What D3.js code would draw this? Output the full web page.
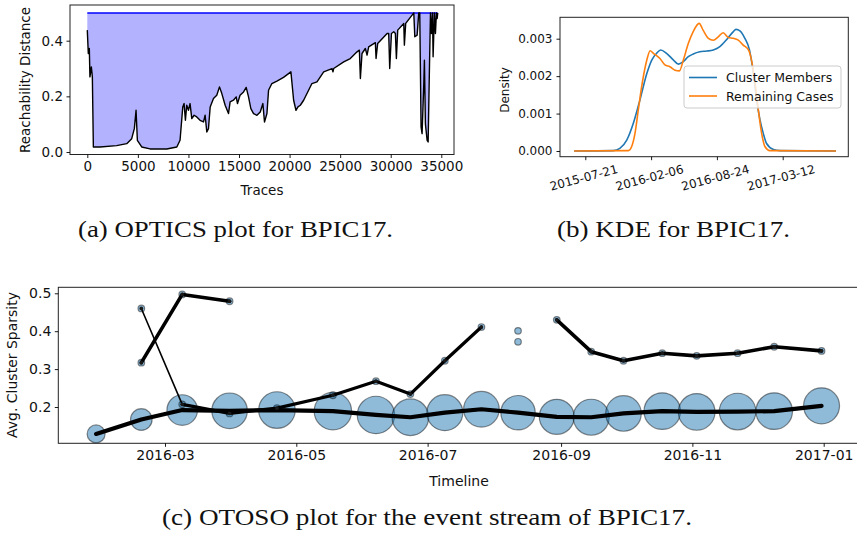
<!DOCTYPE html>
<html>
<head>
<meta charset="utf-8">
<script src="https://cdn.jsdelivr.net/npm/d3@7"></script>
<style>
  body { margin: 0; background: #fff; }
  svg { display: block; font-family: "DejaVu Sans", sans-serif; }
</style>
</head>
<body>
<svg id="fig" width="857" height="538"></svg>
<script>
// (a) OPTICS reachability plot
const traceIdx = [0, 100, 200, 260, 400, 500, 600, 1250, 2900, 3900, 4390, 4650, 4820, 4950, 5380, 6200, 7850, 8850,
  9170, 9440, 9570, 9700, 9830, 10000, 10160, 10330, 10560, 10820, 11150, 11490, 11650, 11815, 11980, 12150, 12475,
  12800, 13070, 13300, 13630, 13960, 14120, 14450, 14720, 14850, 15100, 15450, 15710, 15940, 16170, 16440, 16770,
  17100, 17360, 17520, 17760, 17920, 18250, 18750, 19400, 20130, 20400, 20630, 20830, 21060, 21390, 21880, 22210,
  22710, 23370, 24190, 24290, 24360, 25350, 26000, 26670, 26900, 27000, 27160, 27490, 27660, 27820, 28480, 28550,
  28710, 29640, 29800, 29900, 30070, 30300, 30460, 30560, 30690, 31290, 31350, 31480, 32110, 32280, 32380, 32610,
  32770, 32870, 33000, 33100, 33270, 33330, 33430, 33600, 33700, 33830, 33930, 34030, 34130, 34190, 34320, 34420,
  34520, 34590, 34650];
const reachDist = [0.438, 0.354, 0.372, 0.27, 0.306, 0.27, 0.018, 0.018, 0.023, 0.03, 0.048, 0.084, 0.15, 0.042, 0.018,
  0.011, 0.011, 0.018, 0.042, 0.162, 0.174, 0.114, 0.168, 0.15, 0.174, 0.12, 0.132, 0.126, 0.114, 0.108, 0.132, 0.072,
  0.084, 0.162, 0.192, 0.204, 0.234, 0.21, 0.168, 0.138, 0.18, 0.186, 0.198, 0.174, 0.204, 0.216, 0.232, 0.198, 0.156,
  0.138, 0.132, 0.144, 0.174, 0.108, 0.138, 0.222, 0.246, 0.255, 0.268, 0.288, 0.186, 0.15, 0.162, 0.168, 0.186, 0.222,
  0.246, 0.252, 0.288, 0.3, 0.288, 0.3, 0.324, 0.336, 0.36, 0.366, 0.264, 0.354, 0.372, 0.348, 0.378, 0.393, 0.336,
  0.39, 0.426, 0.426, 0.3, 0.426, 0.432, 0.426, 0.336, 0.438, 0.462, 0.384, 0.462, 0.492, 0.5, 0.414, 0.42, 0.5, 0.5,
  0.09, 0.066, 0.246, 0.33, 0.1, 0.042, 0.036, 0.306, 0.5, 0.426, 0.5, 0.342, 0.5, 0.426, 0.5, 0.48, 0.5];
const epsMax = 0.5;
const tracesTicks = [0, 5000, 10000, 15000, 20000, 25000, 30000, 35000];
const reachTicks = [0, 0.2, 0.4];

// (b) KDE
const kdeTicks = ["2015-07-21", "2016-02-06", "2016-08-24", "2017-03-12"];
const memberDates = ["2015-06-17", "2015-10-14", "2015-11-03", "2015-11-24", "2015-12-14", "2016-01-03", "2016-01-24",
  "2016-02-08", "2016-02-23", "2016-03-06", "2016-03-24", "2016-04-14", "2016-04-29", "2016-05-14", "2016-05-29",
  "2016-06-13", "2016-07-03", "2016-07-24", "2016-08-13", "2016-09-02", "2016-09-23", "2016-10-13", "2016-10-21",
  "2016-11-02", "2016-11-17", "2016-12-01", "2016-12-13", "2016-12-23", "2017-01-02", "2017-01-12", "2017-01-22",
  "2017-02-12", "2017-03-04", "2017-08-21"];
const memberDensity = [0, 0.00001, 0.00007, 0.00029, 0.00074, 0.00136, 0.00207, 0.00243, 0.00261, 0.0027, 0.00261,
  0.00243, 0.00232, 0.00239, 0.00252, 0.00259, 0.00265, 0.00267, 0.0027, 0.00279, 0.00298, 0.00319, 0.00325, 0.00321,
  0.00301, 0.0027, 0.00207, 0.00136, 0.00083, 0.00047, 0.0002, 0.00004, 0.00001, 0];
const remainDates = ["2015-06-17", "2015-11-29", "2015-12-09", "2015-12-19", "2015-12-29", "2016-01-10", "2016-01-24",
  "2016-02-03", "2016-02-13", "2016-03-04", "2016-03-19", "2016-04-03", "2016-04-19", "2016-05-02", "2016-05-14",
  "2016-05-29", "2016-06-13", "2016-07-01", "2016-07-13", "2016-07-29", "2016-08-13", "2016-08-28", "2016-09-12",
  "2016-09-28", "2016-10-13", "2016-10-28", "2016-11-12", "2016-11-28", "2016-12-08", "2016-12-18", "2016-12-28",
  "2017-01-07", "2017-01-17", "2017-02-01", "2017-08-21"];
const remainDensity = [0, 0.00001, 0.00012, 0.00047, 0.00109, 0.00181, 0.00243, 0.00268, 0.00261, 0.00247, 0.0023,
  0.00225, 0.00216, 0.00214, 0.00243, 0.00287, 0.00319, 0.00341, 0.00323, 0.00301, 0.00296, 0.00305, 0.00316, 0.00303,
  0.00301, 0.00296, 0.00283, 0.0027, 0.00239, 0.00181, 0.00109, 0.00047, 0.00012, 0.00001, 0];
const kdeLabels = ["Cluster Members", "Remaining Cases"];
const densityTicks = [0, 0.001, 0.002, 0.003];

// (c) OTOSO
const mainDates = ["2016-01-29", "2016-02-19", "2016-03-09", "2016-03-31", "2016-04-22", "2016-05-18", "2016-06-07",
  "2016-06-23", "2016-07-09", "2016-07-26", "2016-08-12", "2016-08-30", "2016-09-15", "2016-09-30", "2016-10-18",
  "2016-11-03", "2016-11-22", "2016-12-09", "2016-12-31"];
const mainSparsity = [0.129, 0.167, 0.192, 0.190, 0.192, 0.189, 0.179, 0.173, 0.185, 0.194, 0.185, 0.174, 0.173,
  0.183, 0.189, 0.187, 0.188, 0.189, 0.203];
const mainSize = [224, 323, 648, 878, 928, 969, 969, 928, 898, 878, 820, 848, 898, 878, 928, 928, 928, 928, 898];
const branchADates = ["2016-02-19", "2016-03-09", "2016-03-31"];
const branchA = [0.317, 0.497, 0.479];
const branchBDates = ["2016-02-19", "2016-03-09", "2016-03-31", "2016-04-22", "2016-05-18", "2016-06-07", "2016-06-23",
  "2016-07-09", "2016-07-26"];
const branchB = [0.46, 0.207, 0.183, 0.197, 0.231, 0.268, 0.234, 0.322, 0.411];
const branchCDates = ["2016-08-30", "2016-09-15", "2016-09-30", "2016-10-18", "2016-11-03", "2016-11-22", "2016-12-09",
  "2016-12-31"];
const branchC = [0.430, 0.346, 0.322, 0.342, 0.335, 0.342, 0.359, 0.348];
const lonelyDates = ["2016-08-12", "2016-08-12"];
const lonely = [0.401, 0.372];
const smallSize = 30;
const sparsityTicks = [0.2, 0.3, 0.4, 0.5];

const captions = ["(a) OPTICS plot for BPIC17.", "(b) KDE for BPIC17.", "(c) OTOSO plot for the event stream of BPIC17."];

const parse = d3.timeParse("%Y-%m-%d");
const svg = d3.select("#fig");

const styleAxis = (g, size) => {
  g.select(".domain").remove();
  g.selectAll("line").attr("stroke", "#000").attr("stroke-width", 0.9);
  g.selectAll("text").attr("fill", "#111").attr("font-size", size).attr("font-family", "DejaVu Sans");
};
const frame = (b) => {
  svg.append("rect")
    .attr("x", b.l).attr("y", b.t).attr("width", b.r - b.l).attr("height", b.b - b.t)
    .attr("fill", "none").attr("stroke", "#222").attr("stroke-width", 1);
};
const clip = (id, b) => {
  svg.append("clipPath").attr("id", id).append("rect")
    .attr("x", b.l).attr("y", b.t).attr("width", b.r - b.l).attr("height", b.b - b.t);
};

// ---------- (a) ----------
const bA = { l: 70, r: 454, t: 5, b: 154.5 };
const xA = d3.scaleLinear().domain([0, 35000]).range([87.3, 441.3]);
const yA = d3.scaleLinear().domain([0, 0.4]).range([152, 40.7]);
const optics = traceIdx.map((t, i) => ({ t: t, r: reachDist[i] }));
clip("clipA", bA);
const gA = svg.append("g").attr("clip-path", "url(#clipA)");
gA.append("path").datum(optics)
  .attr("d", d3.area().x(d => xA(d.t)).y0(yA(epsMax)).y1(d => yA(d.r)))
  .attr("fill", "#b2b2ff");
gA.append("path").datum(optics)
  .attr("d", d3.line().x(d => xA(d.t)).y(d => yA(epsMax)))
  .attr("fill", "none").attr("stroke", "#0000ff").attr("stroke-width", 1.5);
gA.append("path").datum(optics)
  .attr("d", d3.line().x(d => xA(d.t)).y(d => yA(d.r)))
  .attr("fill", "none").attr("stroke", "#000").attr("stroke-width", 1.4).attr("stroke-linejoin", "round");
frame(bA);
svg.append("g").attr("transform", `translate(0,${bA.b})`)
  .call(d3.axisBottom(xA).tickValues(tracesTicks).tickFormat(d3.format("d")).tickSize(3.5).tickPadding(3.5))
  .call(g => styleAxis(g, 13.5));
svg.append("g").attr("transform", `translate(${bA.l},0)`)
  .call(d3.axisLeft(yA).tickValues(reachTicks).tickFormat(d3.format(".1f")).tickSize(3.5).tickPadding(3.5))
  .call(g => styleAxis(g, 13.5));
svg.append("text").attr("x", 262).attr("y", 195).attr("text-anchor", "middle")
  .attr("font-size", 13.5).attr("fill", "#111").text("Traces");
svg.append("text").attr("transform", "translate(30,80) rotate(-90)").attr("text-anchor", "middle")
  .attr("font-size", 13.5).attr("fill", "#111").text("Reachability Distance");

// ---------- (b) ----------
const bB = { l: 560, r: 848.3, t: 17.3, b: 156.7 };
const xB = d3.scaleTime().domain([parse("2015-07-21"), parse("2017-03-12")]).range([585.3, 782.7]);
const yB = d3.scaleLinear().domain([0, 0.003]).range([151, 38.7]);
const kdeColors = ["#1f77b4", "#ff7f0e"];
const kdeSeries = [
  memberDates.map((d, i) => ({ date: parse(d), v: memberDensity[i] })),
  remainDates.map((d, i) => ({ date: parse(d), v: remainDensity[i] }))
];
const kdeLine = d3.line().x(d => xB(d.date)).y(d => yB(d.v)).curve(d3.curveMonotoneX);
kdeSeries.forEach((s, i) => {
  svg.append("path").datum(s).attr("d", kdeLine)
    .attr("fill", "none").attr("stroke", kdeColors[i]).attr("stroke-width", 1.6);
});
frame(bB);
svg.append("g").attr("transform", `translate(0,${bB.b})`)
  .call(d3.axisBottom(xB).tickValues(kdeTicks.map(parse)).tickFormat(d3.timeFormat("%Y-%m-%d")).tickSize(3.5))
  .call(g => styleAxis(g, 12))
  .call(g => g.selectAll("text").attr("y", 0).attr("dy", "0.35em")
    .attr("transform", "translate(-2,21) rotate(-15)"));
svg.append("g").attr("transform", `translate(${bB.l},0)`)
  .call(d3.axisLeft(yB).tickValues(densityTicks).tickFormat(d3.format(".3f")).tickSize(3.5).tickPadding(4))
  .call(g => styleAxis(g, 12));
svg.append("text").attr("transform", "translate(509,90) rotate(-90)").attr("text-anchor", "middle")
  .attr("font-size", 12).attr("fill", "#111").text("Density");
const legend = svg.append("g").attr("transform", "translate(684,66)");
legend.append("rect").attr("width", 157).attr("height", 42).attr("rx", 3)
  .attr("fill", "#fff").attr("fill-opacity", 0.8).attr("stroke", "#cccccc");
kdeLabels.forEach((name, i) => {
  const y = 11.5 + i * 18.5;
  legend.append("line").attr("x1", 5).attr("x2", 33).attr("y1", y).attr("y2", y)
    .attr("stroke", kdeColors[i]).attr("stroke-width", 1.6);
  legend.append("text").attr("x", 42).attr("y", y + 4.5).attr("font-size", 12.5).attr("fill", "#111").text(name);
});

// ---------- (c) ----------
const bC = { l: 58.3, r: 859, t: 287.3, b: 443.3 };
const xC = d3.scaleTime().domain([parse("2016-03-01"), parse("2017-01-01")]).range([165, 823.7]);
const yC = d3.scaleLinear().domain([0.2, 0.5]).range([407, 293.3]);
const rC = d3.scaleSqrt().domain([0, 1000]).range([0, 19]);
const pts = (dates, vals, sizes) => dates.map((d, i) => ({ date: parse(d), v: vals[i], size: sizes ? sizes[i] : smallSize }));
const mainPts = pts(mainDates, mainSparsity, mainSize);
const aPts = pts(branchADates, branchA);
const bPts = pts(branchBDates, branchB);
const cPts = pts(branchCDates, branchC);
const lonelyPts = pts(lonelyDates, lonely);
const allBubbles = mainPts.concat(aPts, bPts, cPts, lonelyPts);

svg.append("g").selectAll("circle").data(allBubbles).join("circle")
  .attr("cx", d => xC(d.date)).attr("cy", d => yC(d.v)).attr("r", d => rC(d.size))
  .attr("fill", "#1f77b4").attr("fill-opacity", 0.5)
  .attr("stroke", "#000").attr("stroke-opacity", 0.45).attr("stroke-width", 1.2);

const lineC = d3.line().x(d => xC(d.date)).y(d => yC(d.v));
const drawPath = (data, w) => svg.append("path").datum(data).attr("d", lineC)
  .attr("fill", "none").attr("stroke", "#000").attr("stroke-width", w)
  .attr("stroke-linejoin", "round").attr("stroke-linecap", "round");
drawPath(bPts.slice(0, 2), 1.6);
drawPath(bPts.slice(1), 3.2);
drawPath(aPts, 3.6);
drawPath(cPts, 3.6);
drawPath(mainPts, 4.2);
svg.append("g").selectAll("circle").data(aPts.concat(bPts, cPts)).join("circle")
  .attr("cx", d => xC(d.date)).attr("cy", d => yC(d.v)).attr("r", 1.9).attr("fill", "#1a1a1a");

frame(bC);
svg.append("g").attr("transform", `translate(0,${bC.b})`)
  .call(d3.axisBottom(xC).ticks(d3.timeMonth.every(2)).tickFormat(d3.timeFormat("%Y-%m")).tickSize(3.5).tickPadding(3.5))
  .call(g => styleAxis(g, 14));
svg.append("g").attr("transform", `translate(${bC.l},0)`)
  .call(d3.axisLeft(yC).tickValues(sparsityTicks).tickFormat(d3.format(".1f")).tickSize(3.5).tickPadding(3.5))
  .call(g => styleAxis(g, 14));
svg.append("text").attr("x", 459).attr("y", 486).attr("text-anchor", "middle")
  .attr("font-size", 14).attr("fill", "#111").text("Timeline");
svg.append("text").attr("transform", "translate(17,365) rotate(-90)").attr("text-anchor", "middle")
  .attr("font-size", 14).attr("fill", "#111").text("Avg. Cluster Sparsity");

// captions
const capPos = [[78, 237, 315], [557, 237, 233], [162, 525, 530]];
captions.forEach((c, i) => {
  svg.append("text").attr("x", capPos[i][0]).attr("y", capPos[i][1])
    .attr("font-family", "Liberation Serif").attr("font-size", 23.5)
    .attr("textLength", capPos[i][2]).attr("lengthAdjust", "spacingAndGlyphs")
    .attr("fill", "#111").text(c);
});
</script>
</body>
</html>
